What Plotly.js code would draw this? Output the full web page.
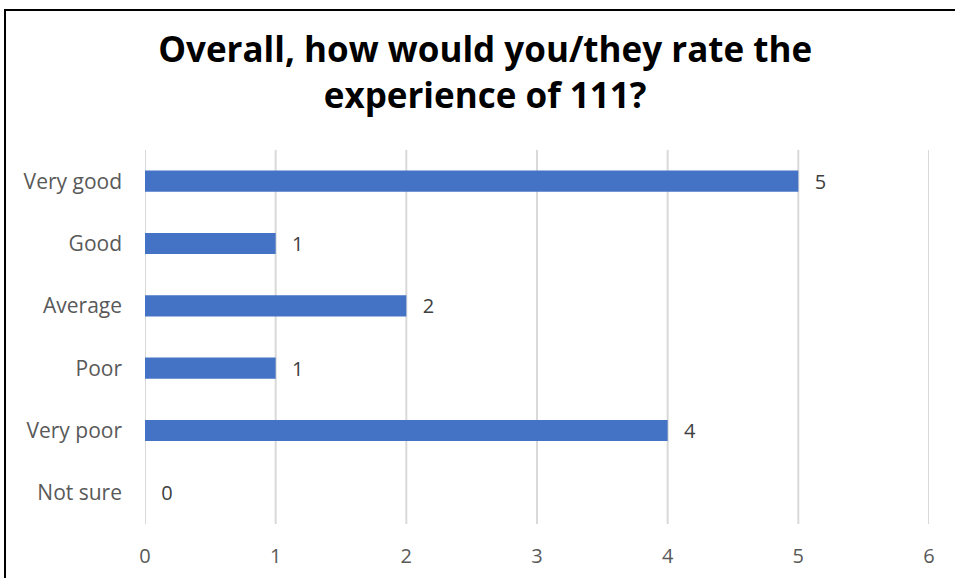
<!DOCTYPE html>
<html>
<head>
<meta charset="utf-8">
<script src="https://cdn.plot.ly/plotly-3.0.1.min.js"></script>
<style>
html,body{margin:0;padding:0;background:#fff;overflow:hidden;}
#frame{position:absolute;left:4px;top:9px;width:1000px;height:700px;border:2px solid #000;box-sizing:border-box;}
#chart{position:absolute;left:0;top:0;width:955px;height:578px;}
</style>
</head>
<body>
<div id="frame"></div>
<div id="chart"></div>
<script>
const categories = ["Very good", "Good", "Average", "Poor", "Very poor", "Not sure"];
const counts = [5, 1, 2, 1, 4, 0];
const xTicks = [0, 1, 2, 3, 4, 5, 6];
const chartTitle = "Overall, how would you/they rate the<br>experience of 111?";

const FONT = "Open Sans, Lato, sans-serif";

const trace = {
  type: "bar",
  orientation: "h",
  y: categories,
  x: counts,
  marker: {color: "#4472C4"},
  text: counts.map(v => "\u2002\u2009" + v),
  textposition: "outside",
  constraintext: "none",
  cliponaxis: false,
  textfont: {family: FONT, size: 20, color: "#404040"},
  hoverinfo: "none"
};

// vertical grid lines at every tick value (drawn behind the bars)
const gridShapes = xTicks.map(v => ({
  type: "line", layer: "below",
  xref: "x", yref: "paper",
  x0: v, x1: v, y0: 0, y1: 1,
  line: {color: "#d9d9d9", width: 2}
}));

const layout = {
  width: 955, height: 578,
  paper_bgcolor: "rgba(0,0,0,0)",
  plot_bgcolor: "rgba(0,0,0,0)",
  margin: {l: 145, r: 26, t: 150, b: 54},
  bargap: 0.66,
  showlegend: false,
  shapes: gridShapes,
  title: {
    text: chartTitle,
    font: {family: FONT, size: 35, color: "#000", weight: "bold"},
    x: 0.508, xanchor: "center",
    y: 0.892, yanchor: "top", yref: "container"
  },
  xaxis: {
    range: [0, 6],
    tickvals: xTicks,
    ticktext: xTicks.map(String),
    showgrid: false,
    zeroline: false, showline: false,
    ticks: "", ticklabelstandoff: 18,
    tickfont: {family: FONT, size: 20, color: "#595959"},
    fixedrange: true
  },
  yaxis: {
    categoryorder: "array",
    categoryarray: categories,
    autorange: "reversed",
    showgrid: false, zeroline: false, showline: false,
    ticks: "", ticklabelstandoff: 22,
    tickfont: {family: FONT, size: 21, color: "#595959"},
    fixedrange: true
  }
};

Plotly.newPlot("chart", [trace], layout, {displayModeBar: false, staticPlot: true});
</script>
</body>
</html>
